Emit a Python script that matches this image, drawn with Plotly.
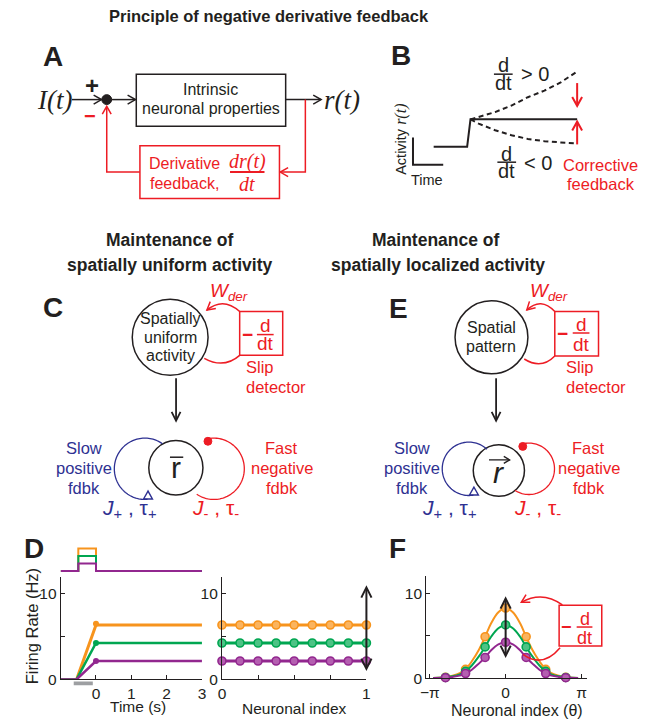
import numpy as np
import plotly.graph_objects as go

FIG_W, FIG_H = 655, 727
SANS = "Liberation Sans, Arial, sans-serif"
SERIF = "Liberation Serif, Times New Roman, serif"
INK = "#231F20"
RED = "#ED1C24"
BLUE = "#2E3192"
ORANGE = "#F7941D"
GREEN = "#00A651"
PURPLE = "#92278F"
TINT = {ORANGE: "#FBB45E", GREEN: "#4DC385", PURPLE: "#B45FB0"}
GRAY = "#9D9FA2"

# ---------------- data ----------------
# D (left): population rate before / after a brief input pulse
t_rate = [-1.0, -0.55, 0.0, 3.0]
rate_high = [0.0, 0.0, 6.35, 6.35]
rate_mid = [0.0, 0.0, 4.25, 4.25]
rate_low = [0.0, 0.0, 2.15, 2.15]
t_settle = [0.0]
settle_high = [6.5]
settle_mid = [4.25]
settle_low = [2.15]

# input pulse drawn above the rate traces
t_input = [-1.0, -0.5, -0.5, 0.0, 0.0, 3.0]
input_high = [0, 0, 2.55, 2.55, 0, 0]
input_mid = [0, 0, 1.7, 1.7, 0, 0]
input_low = [0, 0, 0.85, 0.85, 0, 0]
pulse_window = [-0.63, -0.09]

# D (right): persistent rate across the network
neuron_index = [0.0, 0.125, 0.25, 0.375, 0.5, 0.625, 0.75, 0.875, 1.0]
uniform_high = [6.35, 6.35, 6.35, 6.35, 6.35, 6.35, 6.35, 6.35, 6.35]
uniform_mid = [4.25, 4.25, 4.25, 4.25, 4.25, 4.25, 4.25, 4.25, 4.25]
uniform_low = [2.15, 2.15, 2.15, 2.15, 2.15, 2.15, 2.15, 2.15, 2.15]
uniform_span = [0.8, 11.0]

# F: localized bump of activity
theta_curve = [-3.0, -2.8, -2.5, -2.2, -1.9, -1.66, -1.4, -1.1, -0.85, -0.6, -0.3, 0.0,
               0.3, 0.6, 0.85, 1.1, 1.4, 1.66, 1.9, 2.2, 2.5, 2.8, 3.0]
bump_high = [0.03, 0.05, 0.12, 0.3, 0.6, 1.05, 2.0, 3.4, 4.9, 6.5, 7.8, 8.3,
             7.8, 6.5, 4.9, 3.4, 2.0, 1.05, 0.6, 0.3, 0.12, 0.05, 0.03]
bump_mid = [0.02, 0.04, 0.09, 0.22, 0.45, 0.8, 1.5, 2.6, 3.7, 4.9, 5.9, 6.3,
            5.9, 4.9, 3.7, 2.6, 1.5, 0.8, 0.45, 0.22, 0.09, 0.04, 0.02]
bump_low = [0.01, 0.03, 0.06, 0.15, 0.3, 0.55, 1.0, 1.75, 2.45, 3.3, 4.0, 4.25,
            4.0, 3.3, 2.45, 1.75, 1.0, 0.55, 0.3, 0.15, 0.06, 0.03, 0.01]
theta_sample = [-2.49, -1.66, -0.85, 0.0, 0.85, 1.66, 2.49]
sample_high = [0.1, 1.05, 4.9, 8.3, 4.9, 1.05, 0.1]
sample_mid = [0.08, 0.8, 3.7, 6.3, 3.7, 0.8, 0.08]
sample_low = [0.05, 0.55, 2.45, 4.25, 2.45, 0.55, 0.05]
bump_span = [2.2, 9.7]

# ---------------- drawing helpers (figure pixels, y down) ----------------
shapes, annots = [], []


def px(x):
    return x / FIG_W


def py(y):
    return 1 - y / FIG_H


def pt(x, y):
    return f"{px(x):.5f},{py(y):.5f}"


def poly(pts, color=INK, width=1.5, dash=None, closed=False):
    path = "M" + " L".join(pt(x, y) for x, y in pts) + (" Z" if closed else "")
    line = dict(color=color, width=width)
    if dash:
        line["dash"] = dash
    shapes.append(dict(type="path", xref="paper", yref="paper", path=path,
                       line=line, layer="above"))


def quad(a, c, b, color=INK, width=1.5):
    path = f"M{pt(*a)} Q{pt(*c)} {pt(*b)}"
    shapes.append(dict(type="path", xref="paper", yref="paper", path=path,
                       line=dict(color=color, width=width), layer="above"))


def head(tip, frm, color=INK, length=8, half=4.5, width=1.5):
    dx, dy = tip[0] - frm[0], tip[1] - frm[1]
    n = np.hypot(dx, dy)
    ux, uy = dx / n, dy / n
    bx, by = tip[0] - ux * length, tip[1] - uy * length
    poly([(bx - uy * half, by + ux * half), tip, (bx + uy * half, by - ux * half)],
         color, width)


def arrow(a, b, color=INK, width=1.5, **kw):
    poly([a, b], color, width)
    head(b, a, color, width=width, **kw)


def rect(x0, y0, x1, y1, color=INK, width=1.5):
    shapes.append(dict(type="rect", xref="paper", yref="paper",
                       x0=px(x0), x1=px(x1), y0=py(y1), y1=py(y0),
                       line=dict(color=color, width=width), layer="above"))


def circle(cx, cy, r, color=INK, width=1.5, fill=None):
    shapes.append(dict(type="circle", xref="paper", yref="paper",
                       x0=px(cx - r), x1=px(cx + r), y0=py(cy + r), y1=py(cy - r),
                       line=dict(color=color, width=width),
                       fillcolor=fill if fill else "rgba(0,0,0,0)", layer="above"))


def arc(cx, cy, r, a0, a1, color, width=1.3, n=80):
    ang = np.radians(np.linspace(a0, a1, n))
    poly(list(zip(cx + r * np.cos(ang), cy + r * np.sin(ang))), color, width)


def text(x, y, s, size=16, color=INK, family=SANS, xanchor="center", angle=0):
    annots.append(dict(x=px(x), y=py(y), xref="paper", yref="paper", text=s,
                       showarrow=False, xanchor=xanchor, yanchor="middle",
                       textangle=angle,
                       font=dict(size=size, color=color, family=family)))


def fraction(x, y_num, y_bar, y_den, half, num, den, size, color, family=SANS, bar_w=1.5):
    text(x, y_num, num, size, color, family)
    poly([(x - half, y_bar), (x + half, y_bar)], color, bar_w)
    text(x, y_den, den, size, color, family)


# ---------------- headings ----------------
text(267, 16, "<b>Principle of negative derivative feedback</b>", 16.5)
text(166.5, 243, "<b>Maintenance of</b>", 17.5)
text(166.5, 268, "<b>spatially uniform activity</b>", 17.5)
text(437, 243, "<b>Maintenance of</b>", 17.5)
text(438.5, 268, "<b>spatially localized activity</b>", 17.5)

for lbl, x, y in [("A", 47.5, 57), ("B", 401, 56), ("C", 47.5, 311),
                  ("D", 28, 555), ("E", 399, 311.5), ("F", 397.5, 555)]:
    text(x, y, f"<b>{lbl}</b>", 28)

# ---------------- A: block diagram ----------------
text(49.5, 100.7, "<i>I(t)</i>", 27, family=SERIF)
arrow((67, 100.7), (97, 100.7))
circle(102.3, 100.7, 5, INK, 1, INK)
text(87, 86, "<b>+</b>", 24)
text(85.5, 117.5, "<b>−</b>", 20, RED)
arrow((107, 100.7), (131.5, 100.7))
rect(132.3, 75, 284, 127.7)
text(208, 90, "Intrinsic", 16)
text(208, 109.5, "neuronal properties", 16)
arrow((284, 100.7), (320, 100.7))
text(341, 100.7, "<i>r(t)</i>", 27, family=SERIF)
poly([(304, 100.7), (304, 174), (279, 174)], RED)
head((278.5, 174), (290, 174), RED)
rect(136, 147.3, 277.7, 200.7, RED)
poly([(136, 174), (102.3, 174), (102.3, 108)], RED)
head((102.3, 107.5), (102.3, 120), RED)
text(181, 165, "Derivative", 16, RED)
text(181, 185.7, "feedback,", 16, RED)
fraction(245, 163.5, 174, 186.5, 17.5, "<i>dr(t)</i>", "<i>dt</i>", 20, RED, SERIF, 2)

# ---------------- B: corrective feedback sketch ----------------
poly([(413.3, 139), (413.3, 166.7), (444, 166.7)], INK, 2)
text(401.5, 141,
     'Activity <span style="font-family:Liberation Serif;font-size:16px"><i>r(t)</i></span>',
     14.5, angle=-90)
text(428, 181.7, "Time", 14.5)
poly([(434.3, 148.3), (468.3, 148.3), (471.7, 120.7), (580, 120.7)], INK, 2)
poly([(471.7, 120.7), (480, 118.3), (496.7, 113.3), (513.3, 106.7), (530, 98.3),
      (546.7, 91.7), (563.3, 83.3), (580, 72.3)], INK, 2, "5px,3.5px")
poly([(471.7, 120.7), (480, 125), (496.7, 131.7), (513.3, 136.7), (530, 140.5),
      (546.7, 142.7), (563.3, 144), (580, 145)], INK, 2, "5px,3.5px")
fraction(505, 66, 75, 83.5, 9.5, "d", "dt", 20, INK)
text(537.5, 75, "&gt; 0", 20)
fraction(508.5, 155.5, 164, 172.5, 9.5, "d", "dt", 20, INK)
text(540, 164.5, "&lt; 0", 20)
arrow((580, 84), (580, 107), RED, 2, length=9, half=5)
arrow((580, 146), (580, 123), RED, 2, length=9, half=5)
text(603.5, 166.7, "Corrective", 16.5, RED)
text(604.5, 186.5, "feedback", 16.5, RED)


# ---------------- C and E: network diagrams ----------------
def loop_panel(cx_top, cy_top, r_top, top_lines, box, box_glyphs, w_x, slip_x,
               arrow_x, cx_bot, cy_bot, r_bot, rvec, blue, red, left_txt_x,
               right_txt_x, j_left_x, j_right_x):
    circle(cx_top, cy_top, r_top)
    for s, y in top_lines:
        text(cx_top, y, s, 16)
    bx0, by0, bx1, by1 = box
    rect(bx0, by0, bx1, by1, RED)
    mx, fx, y_num, y_bar, y_den = box_glyphs
    text(mx, (y_bar + y_den) / 2 - 5, "<b>−</b>", 19, RED)
    fraction(fx, y_num, y_bar, y_den, 8.5, "d", "dt", 19, RED)
    # slip-detector loop back onto the pattern
    tip = (cx_top + r_top * 0.97, by0 - 1.5)
    ctrl = ((bx0 + tip[0]) / 2, by0 - 15)
    quad((bx0, by0), ctrl, tip, RED)
    head(tip, ctrl, RED, length=8, half=4.5)
    quad((cx_top + r_top * 0.9, by1 + 3), ((bx0 + cx_top + r_top) / 2, by1 + 14), (bx0, by1), RED)
    text(w_x, 295, "<i>W<sub>der</sub></i>", 19, RED, xanchor="left")
    text(slip_x, 371.3, "Slip", 16.5, RED, xanchor="left")
    text(slip_x, 391.3, "detector", 16.5, RED, xanchor="left")
    arrow((arrow_x, 382.5), (arrow_x, 425.5), INK, 1.8, length=9, half=4.5)
    # recurrent population with slow positive and fast negative loops
    circle(cx_bot, cy_bot, r_bot)
    bcx, bcy, br, b0, b1 = blue
    arc(bcx, bcy, br, b0, b1, BLUE)
    ex = bcx + br * np.cos(np.radians(b1))
    poly([(ex + 0.5, bcy + br - 8.5), (ex - 4, bcy + br - 0.5), (ex + 5, bcy + br - 0.5)],
         BLUE, 1.4, closed=True)
    rcx, rcy, rr, r0, r1 = red
    arc(rcx, rcy, rr, r0, r1, RED)
    circle(rcx + rr * np.cos(np.radians(r0)) + 0.5, rcy + rr * np.sin(np.radians(r0)) + 2.5,
           4, RED, 1, RED)
    if rvec:
        text(cx_bot - 0.5, cy_bot + 2, "<i>r</i>", 30)
        arrow((cx_bot - 10, 465), (cx_bot + 11, 465), INK, 1.3, length=6, half=3.5)
    else:
        text(cx_bot, cy_bot - 0.5, "r", 30)
        poly([(cx_bot - 6, 462.3), (cx_bot + 7.5, 462.3)], INK, 1.5)
    for s, y in [("Slow", 452.7), ("positive", 473.3), ("fdbk", 493)]:
        text(left_txt_x, y, s, 16.5, BLUE)
    for s, y in [("Fast", 452.7), ("negative", 473.3), ("fdbk", 493)]:
        text(right_txt_x, y, s, 16.5, RED)
    text(j_left_x, 515, "<i>J</i><sub>+</sub> , τ<sub>+</sub>", 21, BLUE)
    text(j_right_x, 515, "<i>J</i><sub>-</sub> , τ<sub>-</sub>", 21, RED)


loop_panel(166.7, 341, 38.5,
           [("Spatially", 322), ("uniform", 341), ("activity", 359.5)],
           (237.3, 315, 281, 359.3), (245.5, 263.3, 329, 338.3, 347.7),
           205, 241.7, 172.7, 172.5, 473, 27.5, False,
           (141, 474, 31, -55, -275), (211, 474, 31, -102, 124),
           79, 280, 125, 213)

loop_panel(493, 341, 37,
           [("Spatial", 330.7), ("pattern", 350)],
           (557.3, 315, 601.7, 360), (565.5, 584, 328.3, 336.7, 348.3),
           530, 566.7, 497.7, 500.5, 475.8, 26, True,
           (470, 474, 27, -47, -280), (531, 474, 26, -105, 123),
           412, 592, 450, 540)

# ---------------- F: derivative feedback annotation ----------------
rect(561.7, 612, 605, 653.3, RED)
text(569, 634, "<b>−</b>", 18, RED)
fraction(587.5, 625.5, 634, 645.5, 8, "d", "dt", 18, RED)
quad((565, 611.7), (545, 597), (523.3, 609), RED)
head((523.3, 609), (545, 597), RED)
quad((562.7, 655), (545, 676), (525, 661.7), RED)

# axis titles
text(26.7, 633, "Firing Rate (Hz)", 16.5, angle=-90)
text(134, 714.5, "Time (s)", 15.5)
text(293, 716, "Neuronal index", 15.5)
text(519, 718.5, "Neuronal index (θ)", 16)

# ---------------- data traces ----------------
fig = go.Figure()


def line_trace(x, y, color, width, xa, ya, mode="lines", shape="linear", msize=0, ring=False):
    kw = dict(x=x, y=y, mode=mode, xaxis=xa, yaxis=ya, hoverinfo="skip",
              cliponaxis=False, line=dict(color=color, width=width, shape=shape))
    if "markers" in mode:
        fill = TINT[color] if ring else color
        kw["marker"] = dict(size=msize, color=fill,
                            line=dict(color=color, width=1.6 if ring else 0))
    fig.add_trace(go.Scatter(**kw))


for xs, ys, c in [(t_input, input_high, ORANGE), (t_input, input_mid, GREEN),
                  (t_input, input_low, PURPLE)]:
    line_trace(xs, ys, c, 2, "x2", "y2")

for ys, st, c, w in [(rate_high, settle_high, ORANGE, 3), (rate_mid, settle_mid, GREEN, 2.5),
                     (rate_low, settle_low, PURPLE, 2.5)]:
    line_trace(t_rate, ys, c, w, "x3", "y3")
    line_trace(t_settle, st, c, w, "x3", "y3", mode="markers", msize=6)

for ys, c in [(uniform_high, ORANGE), (uniform_mid, GREEN), (uniform_low, PURPLE)]:
    line_trace(neuron_index, ys, c, 3, "x4", "y4", mode="lines+markers", msize=8, ring=True)

for ys, ss, c in [(bump_high, sample_high, ORANGE), (bump_mid, sample_mid, GREEN),
                  (bump_low, sample_low, PURPLE)]:
    line_trace(theta_curve, ys, c, 2, "x5", "y5", shape="spline")
    line_trace(theta_sample, ss, c, 2, "x5", "y5", mode="markers", msize=8, ring=True)

# double arrows showing the range of stable levels
annots.append(dict(x=1, y=uniform_span[1], ax=1, ay=uniform_span[0], xref="x4", yref="y4",
                   axref="x4", ayref="y4", text="", showarrow=True, arrowside="end+start",
                   arrowhead=5, startarrowhead=5, arrowsize=1, startarrowsize=1,
                   arrowwidth=2, arrowcolor=INK))
annots.append(dict(x=0, y=bump_span[1], ax=0, ay=bump_span[0], xref="x5", yref="y5",
                   axref="x5", ayref="y5", text="", showarrow=True, arrowside="end+start",
                   arrowhead=5, startarrowhead=5, arrowsize=1, startarrowsize=1,
                   arrowwidth=2, arrowcolor=INK))

# pulse timing bar under the time axis
shapes.append(dict(type="rect", xref="x3", yref="paper", x0=pulse_window[0], x1=pulse_window[1],
                   y0=py(693), y1=py(689), fillcolor=GRAY, line=dict(width=0), layer="above"))

axis_common = dict(showline=True, linecolor=INK, linewidth=1, ticks="inside", ticklen=4,
                   tickcolor=INK, tickwidth=1, showgrid=False, zeroline=False,
                   tickfont=dict(size=15.5, family=SANS, color=INK), fixedrange=True)
y_ticks = dict(tickvals=[0, 5, 10], ticktext=["0", "", "10"], range=[0, 12])

fig.update_layout(
    width=FIG_W, height=FIG_H, margin=dict(l=0, r=0, t=0, b=0, pad=0),
    paper_bgcolor="white", plot_bgcolor="rgba(0,0,0,0)", showlegend=False,
    xaxis2=dict(domain=[px(55.5), px(199)], range=[-1, 3], visible=False, anchor="y2"),
    yaxis2=dict(domain=[py(580), py(548)], range=[-0.3, 3.3], visible=False, anchor="x2"),
    xaxis3=dict(domain=[px(55.5), px(199)], range=[-1, 3], tickvals=[0, 1, 2, 3],
                anchor="y3", **axis_common),
    yaxis3=dict(domain=[py(687), py(583)], anchor="x3", **y_ticks, **axis_common),
    xaxis4=dict(domain=[px(219.3), px(366)], range=[0, 1],
                tickvals=[0, 0.25, 0.5, 0.75, 1], ticktext=["0", "", "", "", "1"],
                anchor="y4", **axis_common),
    yaxis4=dict(domain=[py(687), py(583)], anchor="x4", **y_ticks, **axis_common),
    xaxis5=dict(domain=[px(426.7), px(590)], range=[-3.29, 3.37],
                tickvals=[-np.pi, 0, np.pi], ticktext=["−π", "0", "π"],
                anchor="y5", **axis_common),
    yaxis5=dict(domain=[py(685.7), py(582.7)], anchor="x5",
                **{**y_ticks, "range": [0, 12.06]}, **axis_common),
    shapes=shapes, annotations=annots,
)

fig.write_html("out.html")
